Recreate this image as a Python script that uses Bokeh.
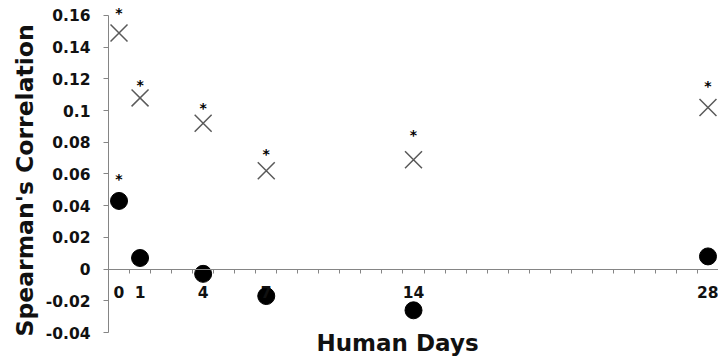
from bokeh.plotting import figure
from bokeh.models import Range1d, FixedTicker, LinearAxis, ColumnDataSource, Title
from bokeh.core.properties import value
from bokeh.embed import file_html
from bokeh.resources import INLINE

# ---- data ----
days = [0, 1, 4, 7, 14, 28]
cross_values = [0.149, 0.108, 0.092, 0.062, 0.069, 0.102]
dot_values = [0.043, 0.007, -0.003, -0.017, -0.026, 0.008]
# asterisk (significance) marks, read at their own heights
cross_star_days = [0, 1, 4, 7, 14, 28]
cross_star_values = [0.162, 0.117, 0.102, 0.0735, 0.0855, 0.116]
dot_star_days = [0]
dot_star_values = [0.0575]

y_ticks = [-0.04, -0.02, 0, 0.02, 0.04, 0.06, 0.08, 0.1, 0.12, 0.14, 0.16]
y_tick_labels = ["-0.04", "-0.02", "0", "0.02", "0.04", "0.06", "0.08", "0.1", "0.12", "0.14", "0.16"]
x_ticks = [0, 1, 4, 7, 14, 28]
x_tick_labels = ["0", "1", "4", "7", "14", "28"]
x_title = "Human Days"
y_title = "Spearman's Correlation"

FONT = "DejaVu Sans"
AXIS_GRAY = "#858585"
TEXT = "#111111"

p = figure(width=718, height=364, output_backend="svg", toolbar_location=None,
           x_range=Range1d(-0.5, 28.5), y_range=Range1d(-0.04, 0.16946),
           x_axis_location=None, y_axis_location="left",
           min_border_left=108, min_border_right=0, min_border_top=0, min_border_bottom=32)
p.grid.visible = False
p.outline_line_color = None
p.background_fill_color = "white"
p.border_fill_color = "white"

# y axis
yax = p.yaxis[0]
yax.ticker = FixedTicker(ticks=y_ticks)
yax.major_label_overrides = dict(zip(y_ticks, y_tick_labels))
yax.bounds = (-0.04, 0.16)
yax.axis_line_color = AXIS_GRAY
yax.major_tick_line_color = AXIS_GRAY
yax.major_tick_out = 5
yax.major_tick_in = 0
yax.minor_tick_line_color = None
yax.minor_tick_out = 0
yax.minor_tick_in = 0
yax.major_label_standoff = 13
yax.major_label_text_font = FONT
yax.major_label_text_font_style = "bold"
yax.major_label_text_font_size = "15.5px"
yax.major_label_text_color = TEXT

# y title (starts at the bottom, like the reference)
ytitle = Title(text=y_title, align="left", vertical_align="bottom", offset=-4, standoff=8,
               text_font=FONT, text_font_style="bold", text_font_size="23.5px",
               text_color=TEXT)
p.add_layout(ytitle, "left")

# x axis crossing at zero
minor_positions = [d + 0.5 for d in range(0, 28)]
xax = LinearAxis(fixed_location=0,
                 ticker=FixedTicker(ticks=x_ticks, minor_ticks=minor_positions),
                 major_label_overrides=dict(zip(x_ticks, x_tick_labels)))
xax.axis_line_color = AXIS_GRAY
xax.major_tick_line_color = None
xax.major_tick_out = 0
xax.major_tick_in = 0
xax.minor_tick_line_color = AXIS_GRAY
xax.minor_tick_line_width = 1
xax.minor_tick_out = 4
xax.minor_tick_in = 0
xax.major_label_standoff = 13
xax.major_label_text_font = FONT
xax.major_label_text_font_style = "bold"
xax.major_label_text_font_size = "15.5px"
xax.major_label_text_color = TEXT
p.add_layout(xax, "below")

# x title
xtitle = Title(text=x_title, align="left", vertical_align="top", offset=208, standoff=-6,
               text_font=FONT, text_font_style="bold", text_font_size="23px",
               text_color=TEXT)
p.add_layout(xtitle, "below")

src = ColumnDataSource(dict(day=days, cross=cross_values, dot=dot_values))
p.scatter("day", "dot", source=src, marker="circle", size=17,
          fill_color="black", line_color="black")
p.scatter("day", "cross", source=src, marker="x", size=24,
          line_color="#5a5a5a", line_width=1.5)

p.text(x=cross_star_days, y=cross_star_values, text=["*"] * len(cross_star_days),
       text_align="center", text_baseline="middle", y_offset=1,
       text_font=value(FONT), text_font_style="bold", text_font_size="14px",
       text_color="black")
p.text(x=dot_star_days, y=dot_star_values, text=["*"] * len(dot_star_days),
       text_align="center", text_baseline="middle", y_offset=1,
       text_font=value(FONT), text_font_style="bold", text_font_size="14px",
       text_color="black")

open("out.html", "w").write(file_html(p, INLINE))
